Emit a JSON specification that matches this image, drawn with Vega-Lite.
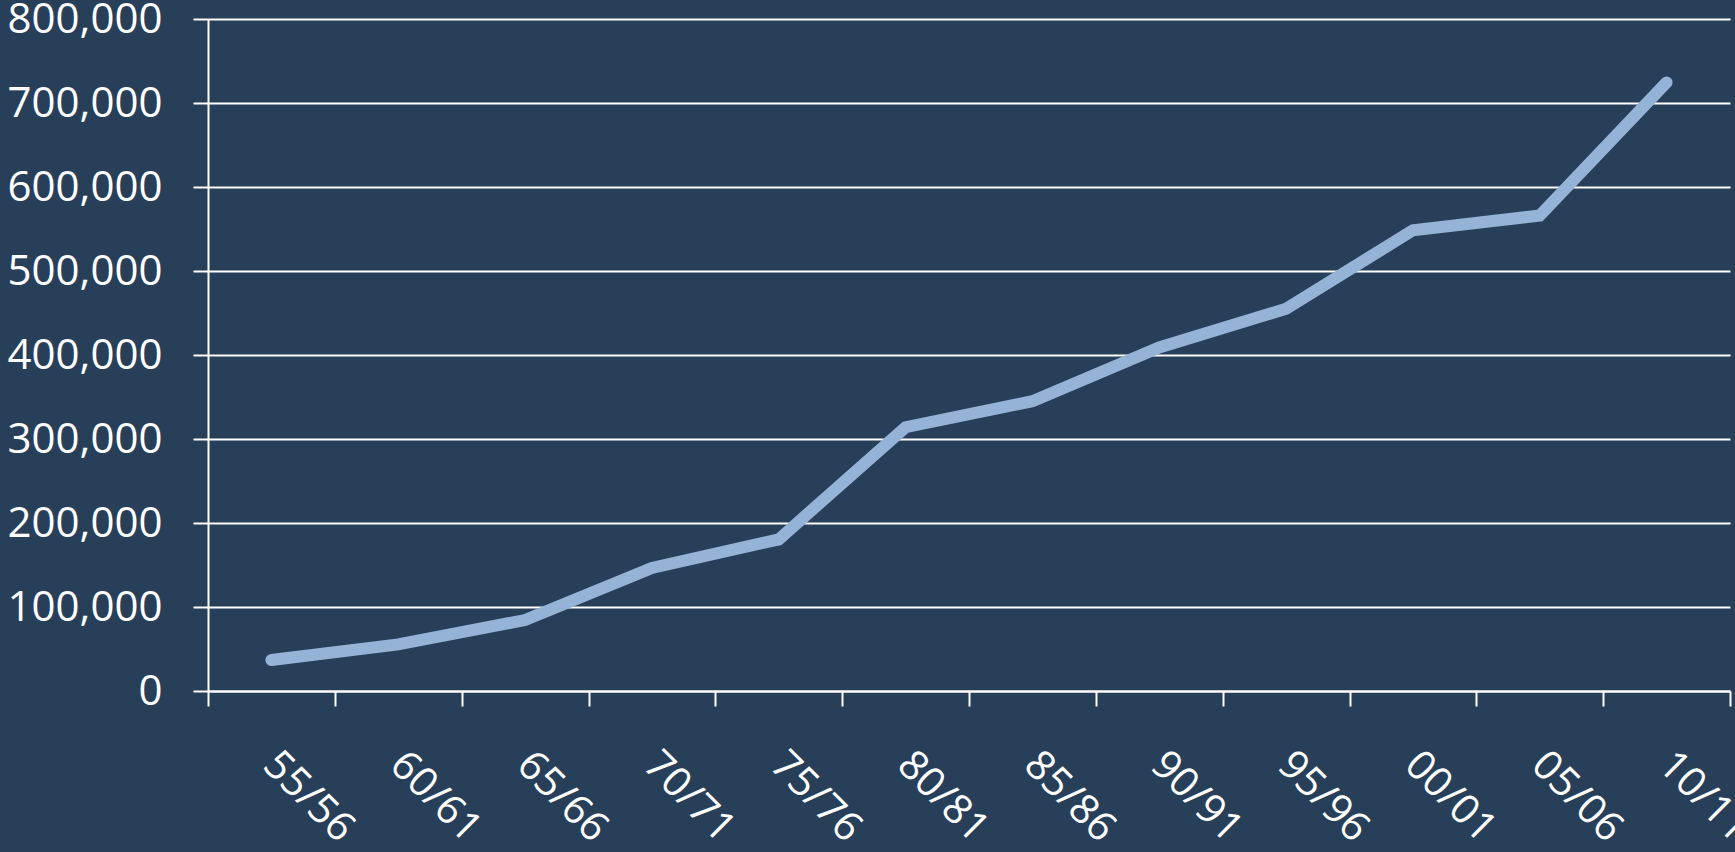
{
  "$schema": "https://vega.github.io/schema/vega-lite/v6.json",
  "autosize": {"type": "none"},
  "width": 1522,
  "height": 672,
  "padding": {"left": 208, "top": 19, "right": 5, "bottom": 161},
  "background": "#283f5a",
  "config": {
    "view": {"stroke": null},
    "axis": {"labelFont": "Open Sans", "labelColor": "#ffffff", "domainColor": "#ffffff", "tickColor": "#ffffff", "gridColor": "#ffffff", "domainWidth": 2, "tickWidth": 2, "gridWidth": 2, "titleFont": "Open Sans"}
  },
  "data": {
    "values": [
      {"year": "55/56", "value": 37000},
      {"year": "60/61", "value": 55500},
      {"year": "65/66", "value": 84500},
      {"year": "70/71", "value": 146500},
      {"year": "75/76", "value": 180500},
      {"year": "80/81", "value": 314000},
      {"year": "85/86", "value": 345000},
      {"year": "90/91", "value": 409000},
      {"year": "95/96", "value": 455000},
      {"year": "00/01", "value": 548500},
      {"year": "05/06", "value": 566000},
      {"year": "10/11", "value": 724500}
    ]
  },
  "mark": {"type": "line", "color": "#95b3d7", "strokeWidth": 12, "strokeCap": "round", "strokeJoin": "miter"},
  "encoding": {
    "x": {
      "field": "year",
      "type": "ordinal",
      "sort": null,
      "bandPosition": 0.5,
      "scale": {"type": "band", "paddingInner": 0, "paddingOuter": 0},
      "axis": {"title": null, "labelAngle": 45, "labelFontSize": 41, "tickBand": "extent", "tickSize": 15, "labelPadding": 38, "labelOffset": 12, "grid": false, "labelAlign": "left", "labelBaseline": "top"}
    },
    "y": {
      "field": "value",
      "type": "quantitative",
      "scale": {"domain": [0, 800000], "nice": false},
      "axis": {"title": null, "values": [0, 100000, 200000, 300000, 400000, 500000, 600000, 700000, 800000], "format": ",d", "labelFontSize": 42, "tickSize": 15, "labelPadding": 31, "grid": true, "domain": true}
    }
  }
}
